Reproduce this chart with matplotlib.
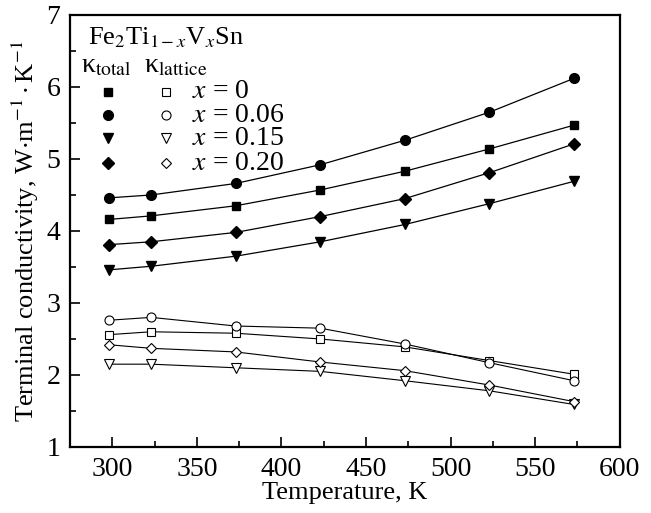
import numpy as np
import matplotlib
matplotlib.use("Agg")
import matplotlib.pyplot as plt

plt.rcParams['font.family'] = ['Liberation Serif', 'DejaVu Serif']
plt.rcParams['mathtext.fontset'] = 'stix'

# Temperatures (K)
temps = [298, 323, 373, 423, 473, 523, 573]

# Total thermal conductivity (filled markers)
k_total_0 = [4.16, 4.21, 4.35, 4.57, 4.83, 5.14, 5.47]
k_total_006 = [4.46, 4.50, 4.66, 4.92, 5.26, 5.65, 6.12]
k_total_015 = [3.46, 3.51, 3.65, 3.85, 4.09, 4.38, 4.69]
k_total_020 = [3.81, 3.85, 3.98, 4.20, 4.45, 4.81, 5.21]

# Lattice thermal conductivity (open markers)
k_lat_0 = [2.56, 2.60, 2.58, 2.50, 2.39, 2.20, 2.01]
k_lat_006 = [2.76, 2.80, 2.68, 2.65, 2.43, 2.17, 1.92]
k_lat_015 = [2.15, 2.15, 2.10, 2.05, 1.92, 1.78, 1.59]
k_lat_020 = [2.42, 2.37, 2.32, 2.18, 2.06, 1.86, 1.63]

labels = ["$x$ = 0", "$x$ = 0.06", "$x$ = 0.15", "$x$ = 0.20"]
markers = ['s', 'o', 'v', 'D']
totals = [k_total_0, k_total_006, k_total_015, k_total_020]
lattices = [k_lat_0, k_lat_006, k_lat_015, k_lat_020]
msizes = [6, 7, 7.5, 6]

fig = plt.figure(figsize=(6.51, 5.13), dpi=100)
ax = fig.add_axes([0.1075, 0.1287, 0.8445, 0.8421])

for vals, m, ms in zip(totals, markers, msizes):
    ax.plot(temps, vals, color='black', lw=0.9, marker=m, ms=ms,
            mfc='black', mec='black')
for vals, m, ms in zip(lattices, markers, msizes):
    ax.plot(temps, vals, color='black', lw=0.8, marker=m, ms=ms - 0.5,
            mfc='white', mec='black', mew=0.8)

ax.set_xlim(275, 600)
ax.set_ylim(1, 7)
ax.set_xticks([300, 350, 400, 450, 500, 550, 600])
ax.set_xticks(np.arange(325, 600, 50), minor=True)
ax.set_yticks([1, 2, 3, 4, 5, 6, 7])
ax.set_yticks(np.arange(1.5, 7, 1), minor=True)
ax.tick_params(which='both', direction='in', top=False, right=False,
               labelsize=20, width=1.2)
ax.tick_params(which='major', length=7, pad=7)
ax.tick_params(which='minor', length=4)
for s in ax.spines.values():
    s.set_linewidth(1.6)

ax.set_xlabel("Temperature, K", fontsize=19, labelpad=0)
ax.set_ylabel(r"Terminal conductivity, W$\cdot$m$^{-1}\cdot$K$^{-1}$",
              fontsize=19, labelpad=4)

# custom legend block
tr = ax.transAxes
ax.text(0.033, 0.947, r"Fe$_2$Ti$_{1-x}$V$_x$Sn", transform=tr,
        fontsize=19, va='center', ha='left')
ax.text(0.02, 0.882, r"κ$_{\rm total}$", transform=tr, fontsize=20,
        va='center', ha='left')
ax.text(0.135, 0.882, r"κ$_{\rm lattice}$", transform=tr, fontsize=20,
        va='center', ha='left')
rows_y = [0.822, 0.768, 0.715, 0.657]
for yy, m, ms, lab in zip(rows_y, markers, msizes, labels):
    ax.plot([0.069], [yy], transform=tr, marker=m, ms=ms, color='black',
            ls='none', clip_on=False)
    ax.plot([0.175], [yy], transform=tr, marker=m, ms=ms - 0.5, mfc='white',
            mec='black', mew=0.8, ls='none', clip_on=False)
    ax.text(0.222, yy, lab, transform=tr, fontsize=20, va='center', ha='left')

fig.savefig("out.png", dpi=100)
